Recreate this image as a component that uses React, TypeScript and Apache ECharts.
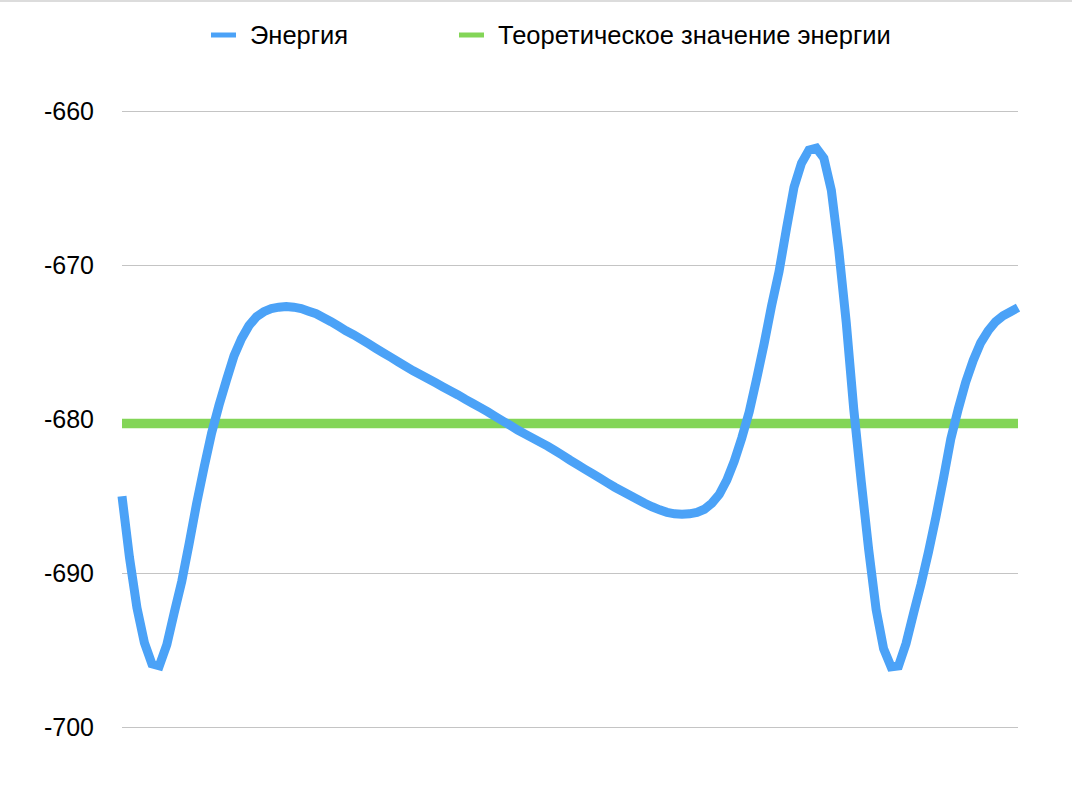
import React, { useEffect, useRef } from 'react';
import * as echarts from 'echarts';

// energy per time step
const energy = [
  -685.02, -688.99, -692.25, -694.53, -695.9, -696.03, -694.66, -692.57, -690.55, -688.08,
  -685.47, -683.13, -680.91, -679.09, -677.46, -675.9, -674.79, -673.94, -673.36, -673.03,
  -672.83, -672.74, -672.7, -672.74, -672.83, -673.0, -673.16, -673.42, -673.68, -673.97,
  -674.27, -674.53, -674.82, -675.11, -675.41, -675.7, -675.99, -676.29, -676.58, -676.87,
  -677.13, -677.39, -677.65, -677.92, -678.18, -678.44, -678.73, -678.99, -679.26, -679.54,
  -679.84, -680.13, -680.42, -680.72, -680.98, -681.24, -681.5, -681.76, -682.05, -682.35,
  -682.67, -682.96, -683.26, -683.55, -683.84, -684.14, -684.43, -684.69, -684.95, -685.21,
  -685.47, -685.7, -685.9, -686.06, -686.16, -686.19, -686.16, -686.06, -685.86, -685.47,
  -684.89, -683.97, -682.74, -681.24, -679.54, -677.39, -675.11, -672.64, -670.42, -667.62,
  -664.95, -663.39, -662.54, -662.41, -663.06, -665.15, -669.06, -673.75, -679.35, -684.04,
  -688.47, -692.38, -694.92, -696.09, -696.03, -694.59, -692.64, -690.75, -688.66, -686.38,
  -683.91, -681.3, -679.35, -677.6, -676.2, -675.05, -674.27, -673.68, -673.29, -673.03,
  -672.77,
];
const steps = energy.map((_, i) => String(i));
const theoreticalEnergy = -680.3;
const seriesNames = ['Энергия', 'Теоретическое значение энергии'];
const yMin = -700;
const yMax = -660;
const yStep = 10;

const FONT = '"Liberation Sans", Arial, Helvetica, sans-serif';

const App: React.FC = () => {
  const chartRef = useRef<HTMLDivElement>(null);

  useEffect(() => {
    if (!chartRef.current) return;
    const chart = echarts.init(chartRef.current, undefined, { renderer: 'svg' });

    const legendText = { color: '#000', fontSize: 25.5, fontFamily: FONT, padding: [0, 0, 0, 9] };

    chart.setOption({
      animation: false,
      backgroundColor: '#fff',
      graphic: [
        { type: 'rect', left: 0, top: 0, shape: { width: 1072, height: 2 }, style: { fill: '#dcdcdc' } },
      ],
      legend: [
        { data: [seriesNames[0]], left: 206, top: 17, icon: 'rect', itemWidth: 25, itemHeight: 5, textStyle: legendText },
        { data: [seriesNames[1]], left: 454, top: 17, icon: 'rect', itemWidth: 25, itemHeight: 5, textStyle: legendText },
      ],
      grid: { left: 122, right: 54, top: 111, bottom: 71 },
      xAxis: {
        type: 'category',
        data: steps,
        boundaryGap: false,
        show: false,
      },
      yAxis: {
        type: 'value',
        min: yMin,
        max: yMax,
        interval: yStep,
        axisLine: { show: false },
        axisTick: { show: false },
        axisLabel: { color: '#000', fontSize: 25, fontFamily: FONT, margin: 28 },
        splitLine: { lineStyle: { color: '#c4c4c4', width: 1 } },
      },
      series: [
        {
          name: seriesNames[1],
          type: 'line',
          data: [[0, theoreticalEnergy], [energy.length - 1, theoreticalEnergy]],
          symbol: 'none',
          color: '#83d557',
          lineStyle: { width: 9.5, color: '#83d557' },
        },
        {
          name: seriesNames[0],
          type: 'line',
          data: energy,
          symbol: 'none',
          color: '#4ba2f7',
          lineStyle: { width: 9, color: '#4ba2f7', join: 'miter' },
        },
      ],
    });

    return () => chart.dispose();
  }, []);

  return (
    <div
      ref={chartRef}
      style={{ position: 'fixed', left: 0, top: 0, width: 1072, height: 798 }}
    />
  );
};

export default App;
